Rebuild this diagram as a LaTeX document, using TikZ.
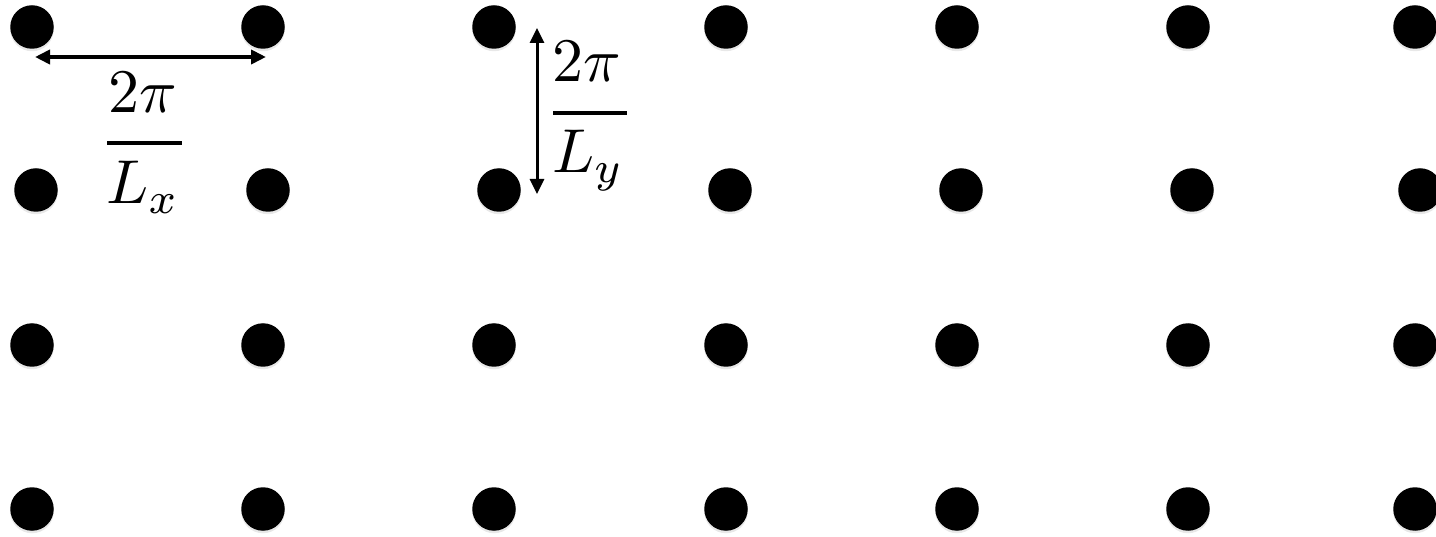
\documentclass[tikz,border=0pt]{standalone}
\usetikzlibrary{arrows.meta,shadows}
\begin{document}
\begin{tikzpicture}[x=1pt,y=-1pt,
  dot/.style={circle,fill=black,inner sep=0pt,minimum size=43.5pt,
    drop shadow={opacity=0.18,shadow xshift=0pt,shadow yshift=-2.5pt}},
  dimarrow/.style={{Triangle[length=15pt,width=14pt]}-{Triangle[length=15pt,width=14pt]}},
  lbl/.style={inner sep=0pt,anchor=base,scale=6.2},
  fracbar/.style={line width=3.5pt}]
\useasboundingbox (0,0) rectangle (1436,537);
% row 1
\foreach \x [count=\c] in {32,263,494,726,957,1188,1415}
  \node[dot] (d1-\c) at (\x,27) {};
% row 2
\foreach \x [count=\c] in {36,268,499,730,961,1192,1420}
  \node[dot] (d2-\c) at (\x,190) {};
% row 3
\foreach \x [count=\c] in {32,263,494,726,957,1188,1415}
  \node[dot] (d3-\c) at (\x,345) {};
% row 4
\foreach \x [count=\c] in {32,263,494,726,957,1188,1415}
  \node[dot] (d4-\c) at (\x,509) {};
% horizontal spacing arrow
\coordinate (hx1) at (35,57);
\coordinate (hx2) at (266,57);
\draw[dimarrow,line width=4pt] (hx1) -- (hx2);
\node[lbl] (numx) at (143,113) {$2\pi$};
\coordinate (bx1) at (107,143);
\coordinate (bx2) at (182,143);
\draw[fracbar] (bx1) -- (bx2);
\node[lbl] (denx) at (143,204) {$L_x$};
% vertical spacing arrow
\coordinate (vy1) at (537,28);
\coordinate (vy2) at (537,194);
\draw[dimarrow,line width=3pt] (vy1) -- (vy2);
\node[lbl] (numy) at (587,82) {$2\pi$};
\coordinate (by1) at (553,113);
\coordinate (by2) at (627,113);
\draw[fracbar] (by1) -- (by2);
\node[lbl] (deny) at (588,173) {$L_y$};
\end{tikzpicture}
\end{document}
